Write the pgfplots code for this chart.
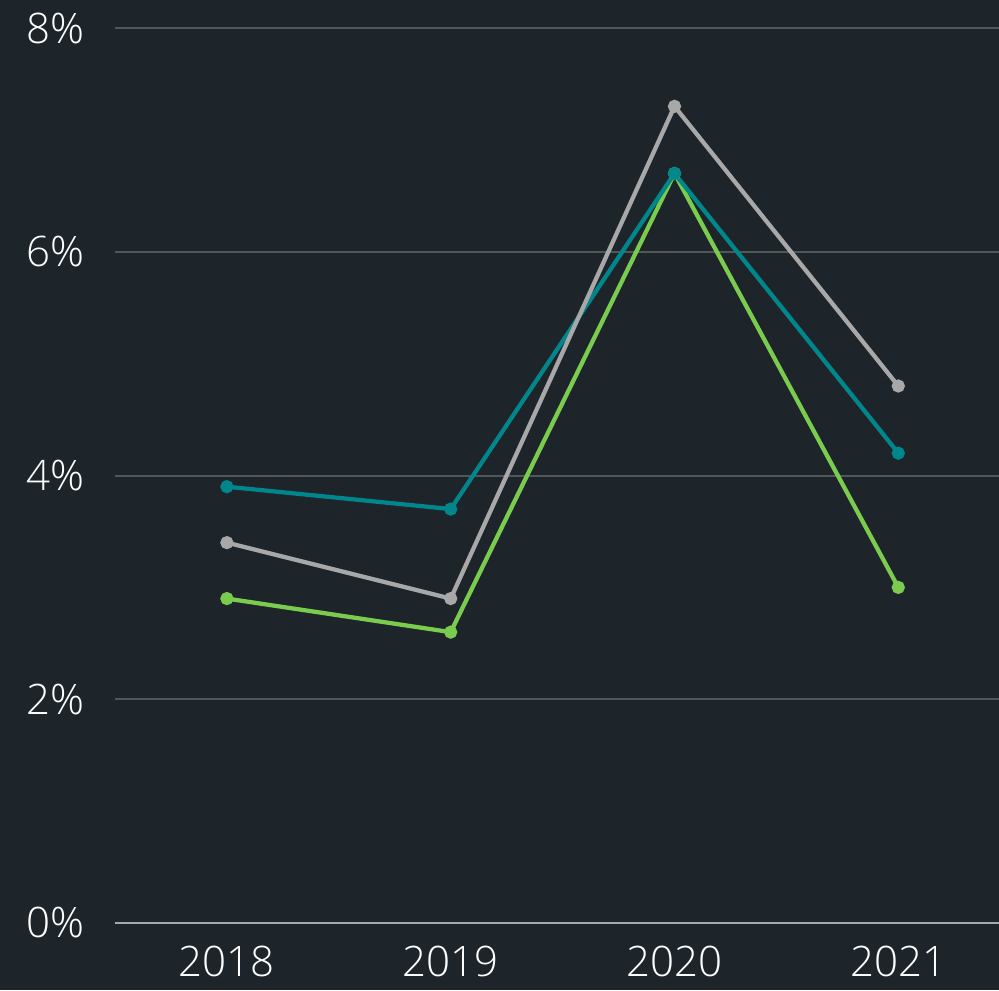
\documentclass[border=0pt]{standalone}
\usepackage{pgfplots}
\pgfplotsset{compat=1.18}
\usepackage{fontspec}
\setmainfont{Open Sans}[UprightFont=* Light]
\definecolor{bg}{HTML}{1E252A}
\definecolor{gridc}{HTML}{4F5857}
\definecolor{axc}{HTML}{A8A8A8}
\definecolor{teal}{HTML}{00868B}
\definecolor{grayl}{HTML}{A8A8A8}
\definecolor{greenl}{HTML}{7ACC4E}
\begin{document}
\begin{tikzpicture}
\fill[bg] (-86.25pt,-50.25pt) rectangle (663pt,692.25pt);
\begin{axis}[
  at={(0,0)}, anchor=south west,
  scale only axis, width=663pt, height=671.25pt,
  xmin=2017.5, xmax=2021.45, ymin=0, ymax=8,
  axis line style={draw=none},
  xtick={2018,2019,2020,2021},
  xticklabels={2018,2019,2020,2021},
  ytick={0,2,4,6,8},
  yticklabel={\pgfmathprintnumber{\tick}\%},
  /pgf/number format/assume math mode=true,
  tick style={draw=none},
  ymajorgrids, grid style={gridc, line width=1.5pt},
  ticklabel style={font=\fontsize{31.5}{36}\selectfont, text=white},
  yticklabel style={xshift=-19.5pt},
  xticklabel style={yshift=-16pt, inner sep=1pt},
  clip=false,
]
\draw[axc, line width=2pt] (axis cs:2017.5,0) -- (axis cs:2021.45,0);
\addplot[greenl, line width=3.2pt, mark=*, mark size=3.3pt] coordinates {(2018,2.9) (2019,2.6) (2020,6.7) (2021,3.0)};
\addplot[teal, line width=3.2pt, mark=*, mark size=3.3pt] coordinates {(2018,3.9) (2019,3.7) (2020,6.7) (2021,4.2)};
\addplot[grayl, line width=3.2pt, mark=*, mark size=3.3pt] coordinates {(2018,3.4) (2019,2.9) (2020,7.3) (2021,4.8)};
\end{axis}
\pgfresetboundingbox
\useasboundingbox (-86.25pt,-50.25pt) rectangle (663pt,692.25pt);
\end{tikzpicture}
\end{document}
